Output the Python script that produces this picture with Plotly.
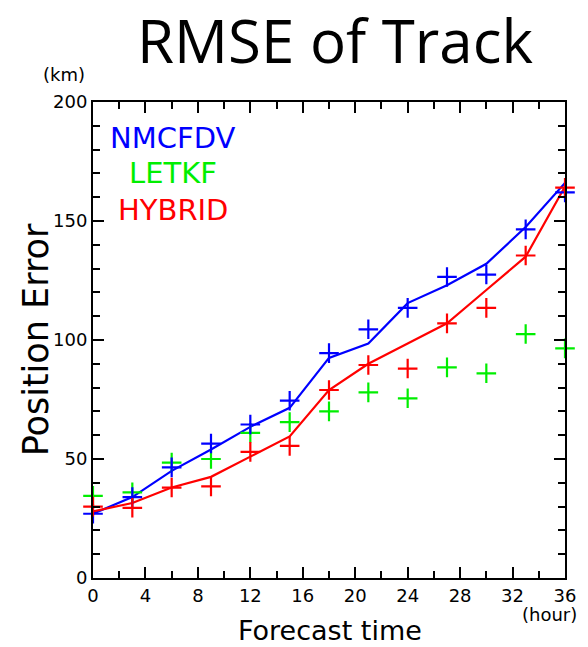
import plotly.graph_objects as go

# ---- data ----
hours = [0, 3, 6, 9, 12, 15, 18, 21, 24, 27, 30, 33, 36]
nmcfdv_line = [27, 34, 45, 54, 63.5, 71.5, 92.5, 98.5, 115.5, 123, 132, 147.5, 166]
nmcfdv_pts = [27, 34, 46.5, 56.5, 64.5, 74.5, 94.5, 104.5, 113.5, 126.5, 127.5, 146.5, 162]
letkf_pts = [34.5, 36, 48.5, 50, 61, 65.5, 70, 78, 75.5, 88.5, 86, 102.5, 96.5]
hybrid_line = [28, 31.5, 38, 42.5, 51, 59.5, 79, 90, 98.5, 107, 121, 135, 164.5]
hybrid_pts = [30, 29.5, 38, 38.5, 53, 55.5, 79, 89.5, 88, 107, 113.5, 135.5, 164]

series_names = ["NMCFDV", "LETKF", "HYBRID"]
series_colors = ["#0000ff", "#00ee00", "#ff0000"]
x_ticks = [0, 4, 8, 12, 16, 20, 24, 28, 32, 36]
y_ticks = [0, 50, 100, 150, 200]

FONT = "DejaVu Sans"
BLUE, GREEN, RED = series_colors

fig = go.Figure()

def marker(color):
    return dict(symbol="cross-thin-open", size=14, color=color,
                line=dict(color=color, width=2.2))

fig.add_trace(go.Scatter(x=hours, y=nmcfdv_line, mode="lines",
                         line=dict(color=BLUE, width=2.2), cliponaxis=False))
fig.add_trace(go.Scatter(x=hours, y=hybrid_line, mode="lines",
                         line=dict(color=RED, width=2.2), cliponaxis=False))
fig.add_trace(go.Scatter(x=hours, y=letkf_pts, mode="markers",
                         marker=marker(GREEN), cliponaxis=False))
fig.add_trace(go.Scatter(x=hours, y=nmcfdv_pts, mode="markers",
                         marker=marker(BLUE), cliponaxis=False))
fig.add_trace(go.Scatter(x=hours, y=hybrid_pts, mode="markers",
                         marker=marker(RED), cliponaxis=False))

axis_common = dict(
    showgrid=False, zeroline=False, showline=True, linecolor="black",
    linewidth=2, mirror="allticks", ticks="inside", ticklen=11,
    tickwidth=2, tickcolor="black",
    tickfont=dict(family=FONT, size=18, color="black"),
)

fig.update_xaxes(range=[0, 36], tickvals=x_ticks,
                 minor=dict(dtick=2, ticks="inside", ticklen=7,
                            tickwidth=1.5, tickcolor="black"),
                 **axis_common)
fig.update_yaxes(range=[0, 200], tickvals=y_ticks,
                 minor=dict(dtick=10, ticks="inside", ticklen=7,
                            tickwidth=1.5, tickcolor="black"),
                 **axis_common)

annotations = []
# in-plot legend labels
for name, color, yv in zip(series_names, series_colors, [185, 170, 154.5]):
    annotations.append(dict(x=6.1, y=yv, xref="x", yref="y", text=name,
                            showarrow=False, xanchor="center", yanchor="middle",
                            font=dict(family=FONT, size=29, color=color)))
# unit labels and axis titles
annotations += [
    dict(x=64, y=647 - 75, text="(km)", showarrow=False,
         font=dict(family=FONT, size=18, color="black")),
    dict(x=552, y=647 - 614, text="(hour)", showarrow=False,
         font=dict(family=FONT, size=18, color="black")),
    dict(x=332, y=647 - 630, text="Forecast time", showarrow=False,
         font=dict(family=FONT, size=27, color="black")),
    dict(x=36, y=647 - 340, text="Position Error", showarrow=False,
         textangle=-90, font=dict(family=FONT, size=35, color="black")),
]
# convert pixel-placed annotations to paper coordinates
W, H = 588, 647
L, R, T, B = 93, 20, 102, 69
pw, ph = W - L - R, H - T - B
for a in annotations:
    if a.get("xref") == "x":
        continue
    a["xref"] = "paper"
    a["yref"] = "paper"
    a["x"] = (a["x"] - L) / pw
    a["y"] = (a["y"] - B) / ph
    a["xanchor"] = "center"
    a["yanchor"] = "middle"

fig.update_layout(
    width=W, height=H,
    margin=dict(l=L, r=R, t=T, b=B),
    plot_bgcolor="white", paper_bgcolor="white",
    showlegend=False,
    title=dict(text="RMSE of Track", x=335 / W, xanchor="center",
               y=1 - 42 / H, yanchor="middle", yref="container",
               font=dict(family="Open Sans", size=60, color="black")),
    annotations=annotations,
)

fig.write_html("out.html")
